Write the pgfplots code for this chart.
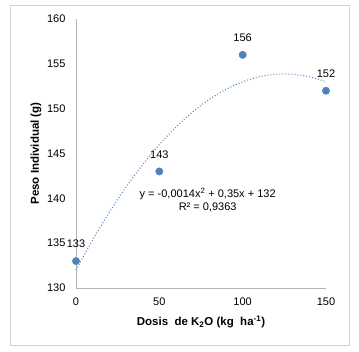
\documentclass[border=0pt]{standalone}
\usepackage{pgfplots}
\pgfplotsset{compat=1.18}
\usepackage{fontspec}
\setmainfont{Liberation Sans}
\definecolor{ptblue}{RGB}{79,129,189}
\definecolor{bordergray}{RGB}{210,210,210}
\definecolor{axisgray}{RGB}{180,180,180}
\begin{document}
\begin{tikzpicture}
\path (0pt,0pt) rectangle (359pt,351pt);
\draw[bordergray, line width=0.8pt] (10.5pt,5.5pt) rectangle (349.5pt,345.5pt);
\begin{axis}[
  at={(76pt,63pt)}, anchor=south west,
  scale only axis, width=250pt, height=269pt,
  xmin=0, xmax=150, ymin=130, ymax=160,
  clip=false,
  axis x line=bottom, axis y line=left,
  axis line style={-, draw=axisgray, line width=0.8pt},
  xtick={0,50,100,150}, ytick={130,135,140,145,150,155,160},
  major tick length=0pt,
  /pgf/number format/assume math mode=true,
  tick label style={font=\fontsize{11}{13}\selectfont, text=black},
  yticklabel style={xshift=-7pt},
  xticklabel style={yshift=-6pt},
  xlabel={Dosis\ \ de K\textsubscript{2}O (kg\ \ ha\textsuperscript{-1})},
  ylabel={Peso Individual (g)},
  every axis x label/.style={at={(axis description cs:0.5,-0.126)}, anchor=center, font=\fontsize{11.5}{13}\selectfont\bfseries},
  every axis y label/.style={at={(axis description cs:-0.16,0.5)}, rotate=90, anchor=center, font=\fontsize{11.5}{13}\selectfont\bfseries},
]
\addplot[ptblue, line width=1.0pt, dash pattern=on 1.0pt off 2.0pt] coordinates {
(0,132) (5,133.715) (10,135.36) (15,136.935) (20,138.44) (25,139.875) (30,141.24) (35,142.535)
(40,143.76) (45,144.915) (50,146) (55,147.015) (60,147.96) (65,148.835) (70,149.64) (75,150.375)
(80,151.04) (85,151.635) (90,152.16) (95,152.615) (100,153) (105,153.315) (110,153.56) (115,153.735)
(120,153.84) (125,153.875) (130,153.84) (135,153.735) (140,153.56) (145,153.315) (150,153)
};
\addplot[only marks, mark=*, mark size=3.7pt, mark options={fill=ptblue, draw=ptblue},
  nodes near coords,
  every node near coord/.append style={anchor=center, yshift=17pt, font=\fontsize{11}{13}\selectfont, text=black}]
  coordinates {(0,133) (50,143) (100,156) (150,152)};
\node[align=center, font=\fontsize{11}{13}\selectfont, inner sep=0pt] at (axis cs:79,139.85)
  {y = -0,0014x\textsuperscript{2} + 0,35x + 132\\R² = 0,9363};
\end{axis}
\end{tikzpicture}
\end{document}
